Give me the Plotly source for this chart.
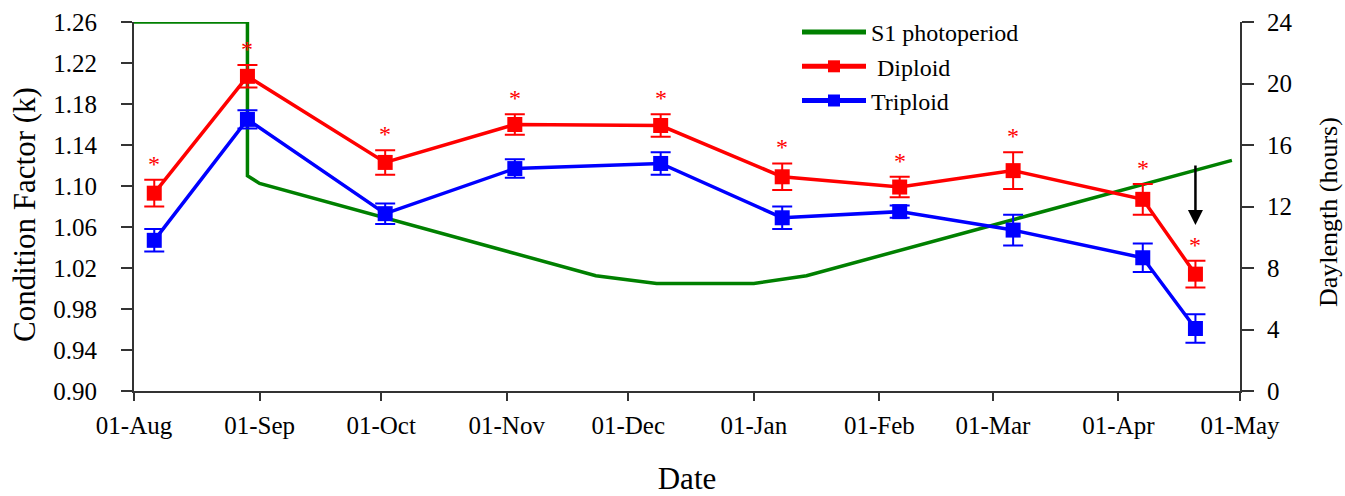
import plotly.graph_objects as go

# Sampling dates and condition factor (mean ± SE)
sample_dates = ["2010-08-06", "2010-08-29", "2010-10-02", "2010-11-03", "2010-12-09",
                "2011-01-08", "2011-02-06", "2011-03-06", "2011-04-07", "2011-04-20"]
diploid_k = [1.093, 1.207, 1.123, 1.160, 1.159, 1.109, 1.099, 1.115, 1.087, 1.014]
diploid_se = [0.013, 0.011, 0.012, 0.010, 0.011, 0.013, 0.010, 0.018, 0.015, 0.013]
triploid_k = [1.047, 1.165, 1.073, 1.117, 1.122, 1.069, 1.075, 1.057, 1.030, 0.961]
triploid_se = [0.011, 0.009, 0.010, 0.009, 0.011, 0.011, 0.006, 0.015, 0.014, 0.014]

# Dates at which diploid differs significantly from triploid
signif_idx = [0, 1, 2, 3, 4, 5, 6, 7, 8, 9]

# S1 photoperiod regime (hours of light)
photo_dates = ["2010-08-01", "2010-08-29", "2010-08-29", "2010-09-01", "2010-11-23",
               "2010-12-08", "2011-01-01", "2011-01-14", "2011-04-29"]
photo_hours = [24, 24, 14.0, 13.5, 7.5, 7.0, 7.0, 7.5, 15.0]

# Date of the final sampling event, marked by an arrow
arrow_date = "2011-04-20"
arrow_k = 1.062

FONT = "Liberation Serif, Times New Roman, serif"
AXIS_COLOR = "#333333"

W, H = 1345, 496
ML, MR, MT, MB = 134, 105, 22, 105
pw, ph = W - ML - MR, H - MT - MB

fig = go.Figure()

fig.add_trace(go.Scatter(
    x=photo_dates, y=photo_hours, name="S1 photoperiod", mode="lines",
    line=dict(color="#008000", width=3.5), yaxis="y",
))
fig.add_trace(go.Scatter(
    x=sample_dates, y=diploid_k, name="\u00a0Diploid", mode="lines+markers",
    line=dict(color="#FF0000", width=3.5),
    marker=dict(symbol="square", size=15, color="#FF0000"),
    error_y=dict(type="data", array=diploid_se, color="#FF0000", thickness=2, width=10),
    yaxis="y2",
))
fig.add_trace(go.Scatter(
    x=sample_dates, y=triploid_k, name="Triploid", mode="lines+markers",
    line=dict(color="#0000FF", width=3.5),
    marker=dict(symbol="square", size=15, color="#0000FF"),
    error_y=dict(type="data", array=triploid_se, color="#0000FF", thickness=2, width=10),
    yaxis="y2",
))

annotations = []
for i in signif_idx:
    annotations.append(dict(
        x=sample_dates[i], y=diploid_k[i] + diploid_se[i], xref="x", yref="y2",
        text="*", showarrow=False, yanchor="bottom", yshift=1,
        font=dict(family=FONT, size=24, color="#FF0000"),
    ))

annotations.append(dict(
    x=arrow_date, y=arrow_k, xref="x", yref="y2", text="", showarrow=True,
    ax=0, ay=-61, arrowhead=2, arrowsize=1.2, arrowwidth=2.5, arrowcolor="#000000",
))


def px_to_paper(xp, yp):
    return (xp - ML) / pw, (H - MB - yp) / ph


tx, ty = px_to_paper(24, 215)
annotations.append(dict(
    x=tx, y=ty, xref="paper", yref="paper", text="Condition Factor (k)",
    showarrow=False, textangle=-90, xanchor="center", yanchor="middle",
    font=dict(family=FONT, size=31, color="#000000"),
))
tx, ty = px_to_paper(1328, 212)
annotations.append(dict(
    x=tx, y=ty, xref="paper", yref="paper", text="Daylength (hours)",
    showarrow=False, textangle=-90, xanchor="center", yanchor="middle",
    font=dict(family=FONT, size=26, color="#000000"),
))

lx, ly = px_to_paper(797, 10)

fig.update_layout(
    template="none",
    width=W, height=H,
    margin=dict(l=ML, r=MR, t=MT, b=MB, autoexpand=False),
    paper_bgcolor="white", plot_bgcolor="white",
    font=dict(family=FONT, size=25, color="#000000"),
    showlegend=True,
    legend=dict(
        x=lx, y=ly, xanchor="left", yanchor="top",
        bgcolor="rgba(0,0,0,0)", borderwidth=0, font=dict(family=FONT, size=24),
        itemwidth=64, tracegroupgap=0, itemsizing="constant",
    ),
    xaxis=dict(
        type="date", range=["2010-08-01", "2011-05-01"],
        tick0="2010-08-01", dtick="M1", tickformat="%d-%b",
        showline=True, linecolor=AXIS_COLOR, linewidth=2, mirror=False,
        ticks="outside", ticklen=8, tickwidth=2, tickcolor=AXIS_COLOR,
        showgrid=False, zeroline=False, ticklabelstandoff=3, automargin=False,
        tickfont=dict(family=FONT, size=25),
        title=dict(text="Date", font=dict(family=FONT, size=31), standoff=34),
    ),
    yaxis=dict(
        side="right", range=[0, 24], tick0=0, dtick=4,
        showline=True, linecolor=AXIS_COLOR, linewidth=2,
        ticks="outside", ticklen=12, tickwidth=2, tickcolor=AXIS_COLOR,
        showgrid=False, zeroline=False, ticklabelstandoff=8, automargin=False,
        tickfont=dict(family=FONT, size=25),
    ),
    yaxis2=dict(
        side="left", overlaying="y", range=[0.90, 1.26], tick0=0.90, dtick=0.04,
        tickformat=".2f",
        showline=True, linecolor=AXIS_COLOR, linewidth=2,
        ticks="outside", ticklen=11, tickwidth=2, tickcolor=AXIS_COLOR,
        showgrid=False, zeroline=False, ticklabelstandoff=19, automargin=False,
        tickfont=dict(family=FONT, size=25),
    ),
    annotations=annotations,
)

fig.write_html("out.html")
